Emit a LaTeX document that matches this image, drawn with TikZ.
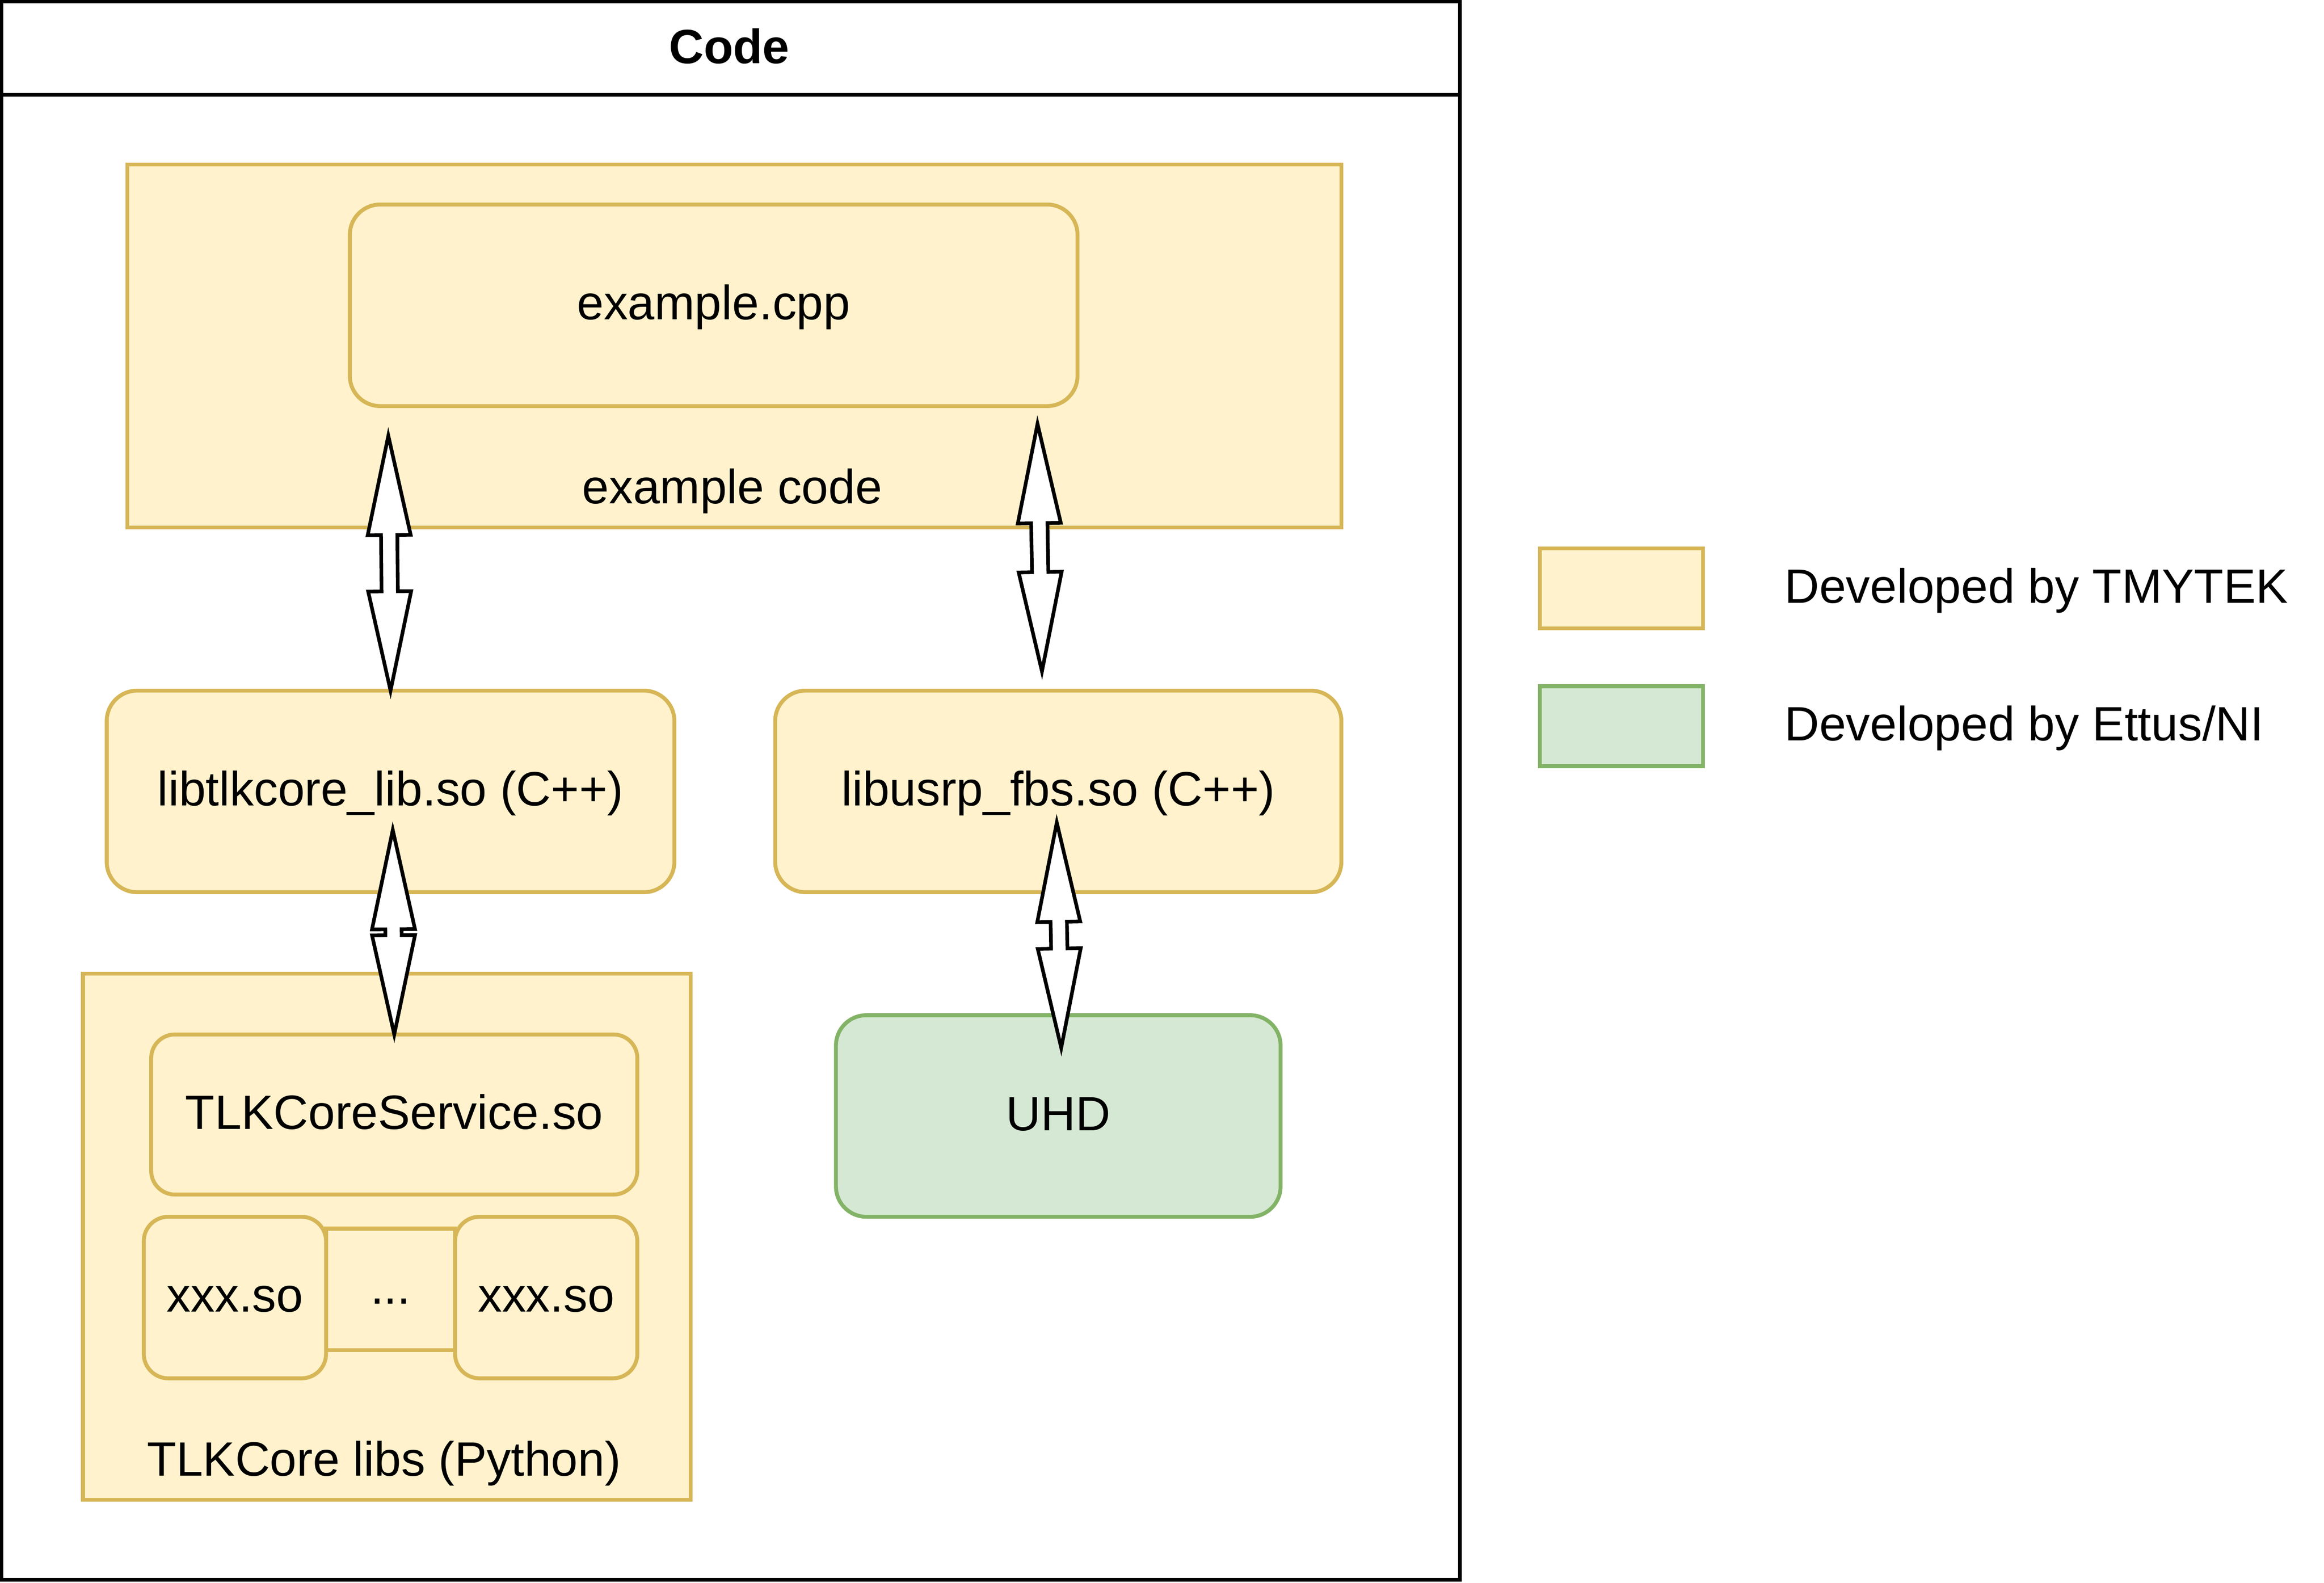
\documentclass[tikz,border=0pt]{standalone}
\usepackage{fontspec}
\setmainfont{Liberation Sans}
\newcommand*{\boxfont}{\fontsize{18.5}{22}\selectfont}
\definecolor{Y}{HTML}{FFF2CC}
\definecolor{YL}{HTML}{D6B656}
\definecolor{G}{HTML}{D5E8D4}
\definecolor{GL}{HTML}{82B366}
\usepackage{tikz}
\usetikzlibrary{calc}
\usetikzlibrary{positioning}
\tikzstyle{base}=[inner sep=0pt, outer sep=0pt, text height=0.6em, text depth=0pt]
\tikzstyle{frame}=[black, line width=1.4pt]
\tikzstyle{group}=[draw=YL, fill=Y, line width=1.5pt]
\tikzstyle{lib}=[group, rounded corners=0.41cm, minimum height=2.72cm]
\tikzstyle{ext}=[lib, draw=GL, fill=G]
\tikzstyle{dbl}=[draw=black, fill=white, line width=1.4pt, line join=miter]
% double block arrow from #1 to #2
\newcommand*{\dblarrow}[2]{%
    \draw [dbl] (#1)
        -- ($(#1)!1.34cm!(#2)!0.29cm!90:(#2)$)
        -- ($(#1)!1.34cm!(#2)!0.11cm!90:(#2)$)
        -- ($(#2)!1.34cm!(#1)!0.11cm!-90:(#1)$)
        -- ($(#2)!1.34cm!(#1)!0.29cm!-90:(#1)$)
        -- (#2)
        -- ($(#2)!1.34cm!(#1)!0.29cm!90:(#1)$)
        -- ($(#2)!1.34cm!(#1)!0.11cm!90:(#1)$)
        -- ($(#1)!1.34cm!(#2)!0.11cm!-90:(#2)$)
        -- ($(#1)!1.34cm!(#2)!0.29cm!-90:(#2)$)
        -- cycle;}

\begin{document}
\begin{tikzpicture}[base]
    \boxfont
        \path [use as bounding box] (0,0) rectangle (31.36,-21.36);
        % outer frame
        \draw [frame] (0.02,-0.02) rectangle (19.7,-21.32);
        \draw [frame] (0.02,-1.28) -- (19.7,-1.28);
        \node [font=\boxfont\bfseries] (code) at (9.84,-0.66) {Code};
        % example code
        \node [group, minimum width=16.38cm, minimum height=4.9cm] (excode) at (9.91,-4.67) {};
        \node (excodetxt) at (9.88,-6.6) {example code};
        \node [lib, minimum width=9.82cm] (cpp) at (9.63,-4.12) {example.cpp};
        % libraries
        \node [lib, minimum width=7.66cm] (tlklib) at (5.27,-10.68) {libtlkcore\_lib.so (C++)};
        \node [lib, minimum width=7.64cm] (usrp) at (14.28,-10.68) {libusrp\_fbs.so (C++)};
        % TLKCore libs
        \node [group, minimum width=8.2cm, minimum height=7.1cm] (tlkpy) at (5.22,-16.69) {};
        \node (tlkpytxt) at (5.18,-19.72) {TLKCore libs (Python)};
        \node [lib, minimum width=6.56cm, minimum height=2.16cm, rounded corners=0.32cm] (svc) at (5.32,-15.04) {TLKCoreService.so};
        \node [group, minimum width=1.74cm, minimum height=1.64cm] (dots) at (5.27,-17.4) {...};
        \node [lib, minimum width=2.46cm, minimum height=2.18cm, rounded corners=0.33cm] (xxxa) at (3.17,-17.51) {xxx.so};
        \node [lib, minimum width=2.46cm, minimum height=2.18cm, rounded corners=0.33cm] (xxxb) at (7.37,-17.51) {xxx.so};
        % UHD
        \node [ext, minimum width=6cm] (uhd) at (14.28,-15.06) {UHD};
        % legend
        \node [group, minimum width=2.2cm, minimum height=1.08cm] (keyY) at (21.88,-7.94) {};
        \node [right=1.1cm of keyY] (keyYtxt) {Developed by TMYTEK};
        \node [group, draw=GL, fill=G, minimum width=2.2cm, minimum height=1.08cm] (keyG) at (21.88,-9.8) {};
        \node [right=1.1cm of keyG] (keyGtxt) {Developed by Ettus/NI};
        % arrows
        \coordinate (a1) at (5.24,-5.88);
        \coordinate (a2) at (14.0,-5.72);
        \coordinate (a2e) at (14.06,-9.06);
        \coordinate (a3) at (5.3,-11.2);
        \coordinate (a4) at (14.26,-11.1);
        \coordinate (a4e) at (14.32,-14.14);
        \dblarrow{a1}{tlklib.north}
        \dblarrow{a2}{a2e}
        \dblarrow{a3}{svc.north}
        \dblarrow{a4}{a4e}
\end{tikzpicture}
\end{document}
